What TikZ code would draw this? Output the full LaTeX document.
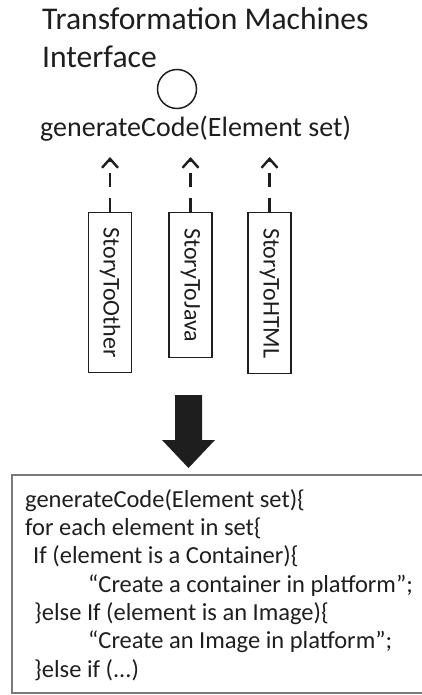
\documentclass[tikz,border=0pt]{standalone}
\usepackage{fontspec}
\setmainfont{Carlito}
\usetikzlibrary{arrows.meta}

\definecolor{ink}{HTML}{1E1E1E}
\definecolor{frame}{HTML}{7A7A7A}

\tikzset{
  label text/.style={inner sep=0pt, text=ink, align=left},
  impl box/.style={draw=ink, line width=1.4pt, rotate=-90, anchor=west,
    minimum height=43pt, inner sep=0pt, text=ink,
    font=\fontsize{24}{28}\selectfont},
  realizes/.style={draw=ink, line width=2.8pt, dash pattern=on 14pt off 11pt,
    -{Straight Barb[length=9pt,width=16pt,line width=2.4pt]}},
  code frame/.style={draw=frame, line width=2pt},
}

\begin{document}
\begin{tikzpicture}[x=1pt,y=-1pt]
  \useasboundingbox (0,0) rectangle (422,695);

  % interface name and lollipop (base anchor sits on the last line)
  \node[label text, anchor=base west, font=\fontsize{31.6}{38}\selectfont]
    (title) at (42,68) {Transformation Machines\\Interface};
  \node[draw=ink, line width=1.5pt, circle, minimum size=39pt, inner sep=0pt]
    (port) at (177,89) {};
  \node[label text, anchor=base west, font=\fontsize{28}{33}\selectfont]
    (gen) at (40,137) {generateCode(Element set)};

  % implementing machines
  \node[impl box, minimum width=160pt] (other) at (110,212) {StoryToOther};
  \node[impl box, minimum width=145pt] (java)  at (190.5,212) {StoryToJava};
  \node[impl box, minimum width=161pt] (html)  at (269.5,212) {StoryToHTML};

  \coordinate (tipO) at (110,157);
  \coordinate (tipJ) at (190.5,157);
  \coordinate (tipH) at (269.5,157);
  \draw[realizes] (other.west) -- (tipO);
  \draw[realizes] (java.west) -- (tipJ);
  \draw[realizes] (html.west) -- (tipH);

  % generated code
  \draw[code frame] (12,475) rectangle (425,693);
  \node[label text, anchor=base west, font=\fontsize{24.5}{28.33}\selectfont]
    (code) at (25,677) {generateCode(Element set)\{\\
    for each element in set\{\\
    \hspace*{8pt}If (element is a Container)\{\\
    \hspace*{63pt}“Create a container in platform”;\\
    \hspace*{9pt}\}else If (element is an Image)\{\\
    \hspace*{63pt}“Create an Image in platform”;\\
    \hspace*{9pt}\}else if (...)};

  % block arrow from the machines to the code
  \fill[ink] (175,395) -- (202,395) -- (202,440) -- (215,440) -- (188.5,468)
    -- (162,440) -- (175,440) -- cycle;
\end{tikzpicture}
\end{document}
